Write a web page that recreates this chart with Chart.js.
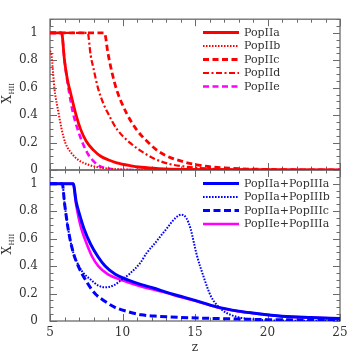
<!DOCTYPE html>
<html><head><meta charset="utf-8">
<script src="https://cdn.jsdelivr.net/npm/chart.js@4.4.1/dist/chart.umd.min.js"></script>
<style>
html,body{margin:0;padding:0;background:#fff;}
#wrap{position:relative;width:359px;height:359px;}
canvas{position:absolute;left:0;top:0;}
</style></head><body>
<div id="wrap"><canvas id="bot" width="359" height="359"></canvas><canvas id="top" width="359" height="359"></canvas></div>
<script>
// ---- data (top panel) ----
const topLabels = ['PopIIa','PopIIb','PopIIc','PopIId','PopIIe'];
const zPopIIa = [5, 5.8, 6.0, 6.2, 6.4, 6.8, 7.1, 7.5, 8.0, 8.5, 9.0, 9.6, 10.5, 11.3, 12.5, 14, 25];
const xPopIIa = [1, 1, 0.8, 0.66, 0.57, 0.4, 0.3, 0.21, 0.145, 0.1, 0.075, 0.052, 0.032, 0.02, 0.01, 0.004, 0];
const zPopIIb = [5, 5.1, 5.3, 5.6, 5.8, 6.05, 6.5, 7.0, 7.6, 8.3, 9.5, 11, 25];
const xPopIIb = [0.87, 0.84, 0.6, 0.41, 0.3, 0.2, 0.12, 0.07, 0.04, 0.02, 0.007, 0.002, 0];
const zPopIIc = [5, 8.75, 9.0, 9.3, 9.6, 10.3, 11.0, 11.78, 12.3, 13.0, 14.2, 15.6, 17.6, 20, 25];
const xPopIIc = [1, 1, 0.85, 0.7, 0.584, 0.41, 0.29, 0.2, 0.15, 0.105, 0.06, 0.03, 0.012, 0.004, 0];
const zPopIId = [5, 7.6, 7.8, 8.0, 8.33, 8.7, 9.02, 9.6, 10.5, 11.55, 12.24, 13.2, 14.2, 16, 18, 25];
const xPopIId = [1, 1, 0.84, 0.74, 0.59, 0.48, 0.41, 0.3, 0.2, 0.12, 0.08, 0.045, 0.026, 0.01, 0.003, 0];
const zPopIIe = [5, 5.8, 6.0, 6.3, 6.6, 6.9, 7.2, 7.6, 8.0, 8.4, 9.0, 9.8, 25];
const xPopIIe = [1, 1, 0.8, 0.58, 0.41, 0.3, 0.21, 0.12, 0.065, 0.03, 0.01, 0, 0];
// ---- data (bottom panel) ----
const botLabels = ['PopIIa+PopIIIa','PopIIa+PopIIIb','PopIIa+PopIIIc','PopIIe+PopIIIa'];
const zIIaIIIa = [5, 6.6, 6.8, 7.0, 7.37, 7.8, 8.3, 8.8, 9.5, 10.4, 11.3, 12.24, 13, 14, 15, 16.5, 18, 19, 21, 23, 25];
const xIIaIIIa = [1, 1, 0.87, 0.79, 0.665, 0.56, 0.47, 0.4, 0.34, 0.298, 0.265, 0.237, 0.21, 0.18, 0.15, 0.103, 0.072, 0.058, 0.035, 0.025, 0.018];
const zIIaIIIb = [5, 5.85, 6.0, 6.26, 6.6, 6.95, 7.3, 7.83, 8.3, 8.8, 9.4, 9.94, 10.5, 11.2, 11.7, 12.24, 12.6, 13.1, 13.6, 14.05, 14.4, 14.7, 15.1, 15.6, 16.1, 16.9, 17.9, 19.3, 21, 25];
const xIIaIIIb = [1, 1, 0.86, 0.665, 0.5, 0.41, 0.35, 0.3, 0.26, 0.245, 0.26, 0.3, 0.345, 0.42, 0.5, 0.567, 0.615, 0.68, 0.745, 0.775, 0.75, 0.67, 0.49, 0.32, 0.18, 0.078, 0.03, 0.01, 0.003, 0];
const zIIaIIIc = [5, 5.85, 6.0, 6.26, 6.6, 6.95, 7.5, 8.1, 8.7, 9.48, 10.3, 11.3, 12.5, 14, 16.5, 20, 25];
const xIIaIIIc = [1, 1, 0.86, 0.665, 0.5, 0.4, 0.29, 0.2, 0.15, 0.1, 0.07, 0.045, 0.034, 0.026, 0.018, 0.01, 0.006];
const zIIeIIIa = [5, 6.6, 6.8, 7.0, 7.18, 7.5, 7.9, 8.33, 9.0, 9.94, 11, 12.24, 13, 14, 15, 16.5, 18, 19, 21, 23, 25];
const xIIeIIIa = [1, 1, 0.85, 0.74, 0.665, 0.57, 0.47, 0.4, 0.34, 0.298, 0.26, 0.225, 0.205, 0.175, 0.148, 0.1, 0.07, 0.057, 0.034, 0.024, 0.017];
// ---- ticks ----
const xTickVals = [5, 10, 15, 20, 25];
const xTickLabels = ['5', '10', '15', '20', '25'];
const yTickVals = [0, 0.2, 0.4, 0.6, 0.8, 1];
const yTickLabels = ['0', '0.2', '0.4', '0.6', '0.8', '1'];

const pts = (zs, xs) => zs.map((z, i) => ({x: z, y: xs[i]}));
const FONT = 'DejaVu Serif';
const TXT = '#333';

function ds(label, zs, xs, color, width, dash) {
  return {label, data: pts(zs, xs), borderColor: color, backgroundColor: color,
    borderWidth: width, borderDash: dash, pointRadius: 0,
    cubicInterpolationMode: 'monotone', fill: false};
}

const decoPlugin = {
  id: 'deco',
  beforeDatasetsDraw(chart) {
    const {ctx, chartArea: a, scales: {x, y}} = chart;
    ctx.save();
    ctx.strokeStyle = '#6a6a6a';
    ctx.lineWidth = 1;
    ctx.beginPath();
    for (let v = 5; v <= 25; v++) {
      const px = Math.round(x.getPixelForValue(v)) + 0.5;
      const L = xTickVals.includes(v) ? 7 : 3.5;
      ctx.moveTo(px, a.bottom); ctx.lineTo(px, a.bottom - L);
      ctx.moveTo(px, a.top); ctx.lineTo(px, a.top + L);
    }
    for (let k = 0; k <= 22; k++) {
      const py = Math.round(y.getPixelForValue(k * 0.05)) + 0.5;
      const L = (k % 4 === 0) ? 7 : 3.5;
      ctx.moveTo(a.left, py); ctx.lineTo(a.left + L, py);
      ctx.moveTo(a.right, py); ctx.lineTo(a.right - L, py);
    }
    ctx.stroke();
    ctx.lineWidth = 1.3;
    ctx.strokeRect(a.left, a.top, a.right - a.left, a.bottom - a.top);
    // y title X_HII
    ctx.fillStyle = TXT;
    ctx.translate(11, (a.top + a.bottom) / 2 + 9);
    ctx.rotate(-Math.PI / 2);
    ctx.textBaseline = 'alphabetic';
    ctx.textAlign = 'left';
    ctx.font = '12px "' + FONT + '"';
    ctx.fillText('X', 0, 0);
    const w = ctx.measureText('X').width;
    ctx.font = '7px "' + FONT + '"';
    ctx.fillText('HII', w + 0.5, 3);
    ctx.restore();
  },
  afterDraw(chart, args, opts) {
    const {ctx} = chart;
    ctx.save();
    ctx.font = '11px "' + FONT + '"';
    ctx.textBaseline = 'middle';
    ctx.textAlign = 'left';
    chart.data.datasets.forEach((d, i) => {
      const yy = opts.top + i * opts.step;
      ctx.beginPath();
      ctx.strokeStyle = d.borderColor;
      ctx.lineWidth = d.borderWidth;
      ctx.setLineDash(d.borderDash || []);
      ctx.moveTo(203, yy); ctx.lineTo(239, yy);
      ctx.stroke();
      ctx.setLineDash([]);
      ctx.fillStyle = TXT;
      ctx.fillText(d.label, 244, yy + 0.5);
    });
    ctx.restore();
  }
};

function yScale() {
  return {
    type: 'linear', min: 0, max: 1.1,
    afterBuildTicks: s => { s.ticks = yTickVals.map(v => ({value: v})); },
    afterFit: s => { s.width = 50; },
    grid: {display: false, drawTicks: false},
    border: {display: false},
    ticks: {padding: 12, color: TXT, font: {family: FONT, size: 12},
      callback: v => yTickLabels[yTickVals.indexOf(v)]}
  };
}

Chart.defaults.animation = false;

new Chart(document.getElementById('top'), {
  type: 'line',
  data: {datasets: [
    ds(topLabels[0], zPopIIa, xPopIIa, '#ff0000', 2.8, []),
    ds(topLabels[1], zPopIIb, xPopIIb, '#ff0000', 2, [1.5, 1.5]),
    ds(topLabels[2], zPopIIc, xPopIIc, '#ff0000', 2.8, [6, 3.5]),
    ds(topLabels[3], zPopIId, xPopIId, '#ff0000', 2.2, [6, 2.5, 2, 2.5]),
    ds(topLabels[4], zPopIIe, xPopIIe, '#ff00ff', 2.6, [6, 3.5])
  ]},
  options: {
    responsive: false, devicePixelRatio: 1,
    layout: {padding: {left: 0, right: 19, top: 19, bottom: 189}},
    plugins: {legend: {display: false}, tooltip: {enabled: false}, deco: {top: 32.5, step: 13.5}},
    scales: {
      x: {type: 'linear', min: 5, max: 25, display: false},
      y: yScale()
    }
  },
  plugins: [decoPlugin]
});

new Chart(document.getElementById('bot'), {
  type: 'line',
  data: {datasets: [
    ds(botLabels[0], zIIaIIIa, xIIaIIIa, '#0000ff', 3, []),
    ds(botLabels[1], zIIaIIIb, xIIaIIIb, '#0000ff', 2, [1.6, 1.4]),
    ds(botLabels[2], zIIaIIIc, xIIaIIIc, '#0000ff', 3, [7, 3.5]),
    ds(botLabels[3], zIIeIIIa, xIIeIIIa, '#ff00ff', 2.6, [])
  ]},
  options: {
    responsive: false, devicePixelRatio: 1,
    layout: {padding: {left: 0, right: 19, top: 170, bottom: 0}},
    plugins: {legend: {display: false}, tooltip: {enabled: false}, deco: {top: 183.5, step: 13.5}},
    scales: {
      x: {
        type: 'linear', min: 5, max: 25,
        afterBuildTicks: s => { s.ticks = xTickVals.map(v => ({value: v})); },
        afterFit: s => { s.height = 38; },
        grid: {display: false, drawTicks: false},
        border: {display: false},
        ticks: {padding: 5, color: TXT, maxRotation: 0, autoSkip: false, font: {family: FONT, size: 12},
          callback: v => xTickLabels[xTickVals.indexOf(v)]},
        title: {display: true, text: 'z', color: TXT, font: {family: FONT, size: 12}, padding: {top: 0, bottom: 4}}
      },
      y: yScale()
    }
  },
  plugins: [decoPlugin]
});
</script>
</body></html>
